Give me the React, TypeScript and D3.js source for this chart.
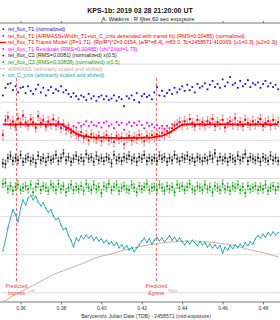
import React from "react";
import * as d3 from "d3";

// Observation times (BJD_TDB - 2458571)
const TIMES = [
  0.3510, 0.3523, 0.3535, 0.3548, 0.3560, 0.3573, 0.3585, 0.3598, 0.3610, 0.3623,
  0.3635, 0.3648, 0.3660, 0.3673, 0.3685, 0.3698, 0.3710, 0.3723, 0.3735, 0.3748,
  0.3760, 0.3773, 0.3785, 0.3798, 0.3810, 0.3823, 0.3835, 0.3848, 0.3860, 0.3873,
  0.3885, 0.3898, 0.3910, 0.3923, 0.3935, 0.3948, 0.3960, 0.3973, 0.3985, 0.3998,
  0.4010, 0.4023, 0.4035, 0.4048, 0.4060, 0.4073, 0.4085, 0.4098, 0.4110, 0.4123,
  0.4135, 0.4148, 0.4160, 0.4173, 0.4185, 0.4198, 0.4210, 0.4223, 0.4235, 0.4248,
  0.4260, 0.4273, 0.4285, 0.4298, 0.4310, 0.4323, 0.4335, 0.4348, 0.4360, 0.4373,
  0.4385, 0.4398, 0.4410, 0.4423, 0.4435, 0.4448, 0.4460, 0.4473, 0.4485, 0.4498,
  0.4510, 0.4523, 0.4535, 0.4548, 0.4560, 0.4573, 0.4585, 0.4598, 0.4610, 0.4623,
  0.4635, 0.4648, 0.4660, 0.4673, 0.4685, 0.4698, 0.4710, 0.4723, 0.4735, 0.4748,
  0.4760, 0.4773, 0.4785, 0.4798, 0.4810, 0.4823, 0.4835, 0.4848, 0.4860, 0.4873,
];

const T1_NORMALIZED = [
  0.959, 0.969, 0.974, 0.975, 0.966, 0.971, 0.963, 0.969, 0.970, 0.962,
  0.971, 0.965, 0.961, 0.967, 0.973, 0.963, 0.969, 0.959, 0.966, 0.970,
  0.962, 0.967, 0.965, 0.971, 0.963, 0.966, 0.961, 0.957, 0.962, 0.958,
  0.954, 0.959, 0.957, 0.953, 0.961, 0.955, 0.958, 0.952, 0.957, 0.959,
  0.954, 0.958, 0.953, 0.955, 0.959, 0.952, 0.957, 0.954, 0.945, 0.958,
  0.955, 0.959, 0.953, 0.962, 0.950, 0.958, 0.961, 0.957, 0.959, 0.954,
  0.963, 0.970, 0.959, 0.965, 0.958, 0.962, 0.966, 0.961, 0.969, 0.963,
  0.967, 0.971, 0.965, 0.973, 0.966, 0.970, 0.963, 0.974, 0.969, 0.971,
  0.975, 0.967, 0.973, 0.978, 0.970, 0.974, 0.969, 0.980, 0.971, 0.976,
  0.983, 0.973, 0.975, 0.969, 0.978, 0.971, 0.974, 0.979, 0.970, 0.975,
  0.973, 0.976, 0.969, 0.974, 0.978, 0.971, 0.975, 0.970, 0.973, 0.967,
];

const T1_DETRENDED = [
  0.907, 0.927, 0.931, 0.921, 0.925, 0.919, 0.929, 0.923, 0.933, 0.924,
  0.920, 0.928, 0.924, 0.917, 0.932, 0.923, 0.927, 0.919, 0.925, 0.921,
  0.928, 0.920, 0.924, 0.916, 0.921, 0.914, 0.917, 0.910, 0.912, 0.908,
  0.906, 0.911, 0.903, 0.907, 0.900, 0.908, 0.904, 0.902, 0.906, 0.899,
  0.904, 0.907, 0.900, 0.903, 0.898, 0.906, 0.902, 0.904, 0.895, 0.903,
  0.906, 0.900, 0.904, 0.902, 0.907, 0.903, 0.899, 0.906, 0.903, 0.907,
  0.904, 0.908, 0.906, 0.910, 0.907, 0.912, 0.910, 0.916, 0.919, 0.921,
  0.924, 0.920, 0.925, 0.921, 0.928, 0.923, 0.919, 0.927, 0.921, 0.924,
  0.920, 0.925, 0.923, 0.928, 0.919, 0.924, 0.921, 0.927, 0.917, 0.923,
  0.925, 0.921, 0.929, 0.920, 0.924, 0.919, 0.927, 0.923, 0.920, 0.925,
  0.921, 0.924, 0.928, 0.919, 0.923, 0.925, 0.920, 0.927, 0.921, 0.924,
];

const T1_RESIDUALS = [
  0.908, 0.925, 0.929, 0.920, 0.924, 0.917, 0.928, 0.921, 0.932, 0.923,
  0.919, 0.927, 0.923, 0.916, 0.931, 0.921, 0.925, 0.917, 0.924, 0.920,
  0.927, 0.919, 0.923, 0.917, 0.921, 0.916, 0.920, 0.915, 0.919, 0.917,
  0.923, 0.919, 0.921, 0.925, 0.919, 0.924, 0.920, 0.919, 0.923, 0.917,
  0.923, 0.925, 0.919, 0.921, 0.916, 0.924, 0.920, 0.923, 0.914, 0.921,
  0.924, 0.919, 0.923, 0.920, 0.925, 0.920, 0.916, 0.923, 0.919, 0.921,
  0.917, 0.920, 0.916, 0.919, 0.915, 0.919, 0.916, 0.921, 0.921, 0.921,
  0.924, 0.920, 0.925, 0.921, 0.928, 0.923, 0.919, 0.927, 0.921, 0.924,
  0.920, 0.925, 0.923, 0.928, 0.919, 0.924, 0.921, 0.927, 0.917, 0.923,
  0.925, 0.921, 0.929, 0.920, 0.924, 0.919, 0.927, 0.923, 0.920, 0.925,
  0.921, 0.924, 0.928, 0.919, 0.923, 0.925, 0.920, 0.927, 0.921, 0.924,
];

const C2_NORMALIZED = [
  0.870, 0.869, 0.877, 0.880, 0.873, 0.877, 0.874, 0.881, 0.872, 0.876,
  0.878, 0.873, 0.876, 0.870, 0.880, 0.874, 0.877, 0.872, 0.878, 0.874,
  0.876, 0.881, 0.873, 0.877, 0.883, 0.874, 0.878, 0.872, 0.876, 0.880,
  0.874, 0.877, 0.873, 0.882, 0.876, 0.878, 0.872, 0.880, 0.874, 0.877,
  0.873, 0.878, 0.876, 0.870, 0.881, 0.874, 0.877, 0.873, 0.878, 0.876,
  0.880, 0.874, 0.877, 0.872, 0.878, 0.876, 0.881, 0.873, 0.877, 0.874,
  0.877, 0.873, 0.880, 0.876, 0.878, 0.872, 0.877, 0.874, 0.881, 0.876,
  0.873, 0.878, 0.876, 0.880, 0.874, 0.877, 0.872, 0.878, 0.876, 0.873,
  0.877, 0.874, 0.880, 0.876, 0.883, 0.873, 0.878, 0.874, 0.877, 0.872,
  0.878, 0.876, 0.873, 0.880, 0.874, 0.877, 0.882, 0.873, 0.878, 0.876,
  0.874, 0.877, 0.872, 0.878, 0.876, 0.873, 0.880, 0.874, 0.877, 0.873,
];

const C3_NORMALIZED = [
  0.843, 0.844, 0.836, 0.840, 0.834, 0.839, 0.842, 0.835, 0.838, 0.840,
  0.836, 0.842, 0.832, 0.839, 0.843, 0.835, 0.840, 0.838, 0.834, 0.842,
  0.839, 0.835, 0.843, 0.836, 0.840, 0.832, 0.838, 0.842, 0.835, 0.839,
  0.836, 0.840, 0.834, 0.843, 0.838, 0.835, 0.842, 0.836, 0.839, 0.831,
  0.840, 0.838, 0.843, 0.835, 0.839, 0.842, 0.834, 0.838, 0.840, 0.836,
  0.835, 0.842, 0.838, 0.832, 0.840, 0.836, 0.839, 0.843, 0.835, 0.838,
  0.839, 0.835, 0.842, 0.838, 0.834, 0.840, 0.836, 0.839, 0.832, 0.842,
  0.838, 0.840, 0.835, 0.839, 0.843, 0.836, 0.834, 0.840, 0.838, 0.835,
  0.842, 0.836, 0.839, 0.832, 0.840, 0.838, 0.835, 0.843, 0.836, 0.839,
  0.834, 0.840, 0.838, 0.842, 0.835, 0.839, 0.831, 0.840, 0.836, 0.838,
  0.840, 0.835, 0.839, 0.836, 0.842, 0.834, 0.838, 0.840, 0.835, 0.839,
];

const TOT_C_CNTS = [
  0.755, 0.769, 0.785, 0.798, 0.809, 0.803, 0.793, 0.811, 0.822, 0.815,
  0.824, 0.828, 0.822, 0.827, 0.819, 0.814, 0.818, 0.811, 0.806, 0.809,
  0.801, 0.796, 0.798, 0.789, 0.783, 0.785, 0.775, 0.769, 0.760, 0.772,
  0.768, 0.775, 0.771, 0.776, 0.772, 0.775, 0.769, 0.773, 0.768, 0.771,
  0.766, 0.769, 0.764, 0.767, 0.762, 0.766, 0.759, 0.763, 0.758, 0.762,
  0.756, 0.760, 0.754, 0.759, 0.763, 0.768, 0.772, 0.766, 0.771, 0.764,
  0.769, 0.773, 0.768, 0.772, 0.767, 0.771, 0.775, 0.769, 0.773, 0.768,
  0.772, 0.767, 0.763, 0.768, 0.764, 0.769, 0.766, 0.762, 0.767, 0.763,
  0.766, 0.760, 0.764, 0.759, 0.763, 0.758, 0.762, 0.752, 0.760, 0.756,
  0.762, 0.758, 0.763, 0.759, 0.764, 0.760, 0.766, 0.762, 0.767, 0.764,
  0.771, 0.775, 0.772, 0.777, 0.773, 0.779, 0.775, 0.780, 0.776, 0.779,
];

const T1_ERR = 0.006;
const C2_ERR = 0.005;
const C3_ERR = 0.005;

const MODEL_TIMES = [0.3510, 0.3800, 0.3830, 0.3860, 0.3900, 0.3950, 0.4100, 0.4250, 0.4300, 0.4340, 0.4370, 0.4400, 0.4873];
const MODEL_VALUES = [0.921, 0.921, 0.916, 0.911, 0.906, 0.904, 0.903, 0.904, 0.906, 0.911, 0.916, 0.921, 0.921];

const AIRMASS_TIMES = [
  0.3510, 0.3560, 0.3610, 0.3660, 0.3710, 0.3760, 0.3810, 0.3860, 0.3910, 0.3960,
  0.4010, 0.4060, 0.4110, 0.4160, 0.4210, 0.4260, 0.4310, 0.4360, 0.4410, 0.4460,
  0.4510, 0.4560, 0.4610, 0.4660, 0.4710, 0.4760, 0.4810, 0.4873,
];
const AIRMASS_VALUES = [
  0.688, 0.696, 0.703, 0.710, 0.717, 0.724, 0.729, 0.734, 0.739, 0.745,
  0.749, 0.752, 0.756, 0.759, 0.762, 0.764, 0.766, 0.767, 0.768, 0.768,
  0.767, 0.766, 0.764, 0.762, 0.758, 0.755, 0.752, 0.747,
];

const X_TICKS = [0.36, 0.38, 0.40, 0.42, 0.44, 0.46, 0.48];
const GRID_VALUES = [0.70, 0.75, 0.80, 0.85, 0.90, 0.95, 1.00];

const PREDICTED_TIMES = [0.3578, 0.4270];
const PREDICTED_LABELS = ["Ingress", "Egress"];
const PREDICTED_SIDES = ["Left", "Right"];

const LEGEND_LABELS = [
  "rel_flux_T1 (normalized)",
  "rel_flux_T1 (AIRMASS+Width_T1+tot_C_cnts detrended with transit fit) (RMS=0.00485) (normalized)",
  "rel_flux_T1 Transit Model ([P=1.71], (Rp/R*)^2=0.0154, [a/R*=8.4], i=83.0, Tc=2458571.410069, [u1=0.3], [u2=0.3])",
  "rel_flux_T1 Residuals (RMS=0.00485) (chi^2/dof=1.79)",
  "rel_flux_C2 (RMS=0.0081) (normalized) x(0.5)",
  "rel_flux_C3 (RMS=0.00808) (normalized) x(0.5)",
  "AIRMASS (arbitrarily scaled and shifted)",
  "tot_C_cnts (arbitrarily scaled and shifted)",
];
const LEGEND_COLORS = ["#1010e8", "#ff0000", "#ff0000", "#ff00ff", "#222222", "#12a012", "#c8a890", "#1aa0ad"];
const LEGEND_KINDS = ["dot", "dot", "line", "dot", "dot", "dot", "dash", "dot"];

const FONT = "'Liberation Sans', Arial, sans-serif";

export default function App() {
  const W = 280;
  const H = 320;
  const top = 23;
  const bottom = 302;
  const left = 0.8;
  const right = 279.6;
  const x = d3.scaleLinear().domain([0.35, 0.488]).range([left, right]);
  const y = d3.scaleLinear().domain([0.688, 1.054]).range([bottom, top]);

  const model = d3
    .line<number>()
    .x((_, i) => x(MODEL_TIMES[i]))
    .y((d) => y(d))(MODEL_VALUES);
  const airmass = d3
    .line<number>()
    .x((_, i) => x(AIRMASS_TIMES[i]))
    .y((d) => y(d))
    .curve(d3.curveMonotoneX)(AIRMASS_VALUES);
  const totC = d3
    .line<number>()
    .x((_, i) => x(TIMES[i]))
    .y((d) => y(d))(TOT_C_CNTS);

  const errBars = (vals: number[], err: number, color: string, key: string) =>
    vals.map((v, i) => {
      const cx = x(TIMES[i]);
      const y1 = y(v + err);
      const y2 = y(v - err);
      return (
        <g key={key + i} stroke={color} strokeWidth={0.7}>
          <line x1={cx} x2={cx} y1={y1} y2={y2} />
          <line x1={cx - 1} x2={cx + 1} y1={y1} y2={y1} />
          <line x1={cx - 1} x2={cx + 1} y1={y2} y2={y2} />
        </g>
      );
    });

  const dots = (vals: number[], color: string, key: string, size = 1.8) =>
    vals.map((v, i) => (
      <rect
        key={key + i}
        x={x(TIMES[i]) - size / 2}
        y={y(v) - size / 2}
        width={size}
        height={size}
        fill={color}
      />
    ));

  return (
    <svg
      width={W}
      height={H}
      style={{ position: "absolute", left: 0, top: 0, background: "#fff" }}
      fontFamily={FONT}
    >
      <rect x={0} y={0} width={W} height={H} fill="#fff" />
      <defs>
        <clipPath id="plot">
          <rect x={left} y={top} width={right - left} height={bottom - top} />
        </clipPath>
      </defs>

      {/* title */}
      <text x={140} y={12.5} textAnchor="middle" fontSize={7} fontWeight="bold" fill="#111">
        KPS-1b: 2019 03 28 21:20:00 UT
      </text>
      <text x={148} y={20.5} textAnchor="middle" fontSize={5.8} fill="#222">
        A. Watkins : R filter,60 sec exposure
      </text>

      {/* grid */}
      {GRID_VALUES.map((g) => (
        <line key={"g" + g} x1={left} x2={right} y1={y(g)} y2={y(g)} stroke="#d4d4d4" strokeWidth={0.8} />
      ))}

      {/* axes */}
      <line x1={0} x2={W} y1={top} y2={top} stroke="#555" strokeWidth={0.8} />
      <line x1={0} x2={W} y1={bottom} y2={bottom} stroke="#555" strokeWidth={0.8} />
      {X_TICKS.map((t) => (
        <g key={"t" + t}>
          <line x1={x(t)} x2={x(t)} y1={bottom} y2={bottom + 2.5} stroke="#555" strokeWidth={0.8} />
          <line x1={x(t)} x2={x(t)} y1={top} y2={top - 2} stroke="#555" strokeWidth={0.8} />
          <text x={x(t)} y={310} textAnchor="middle" fontSize={5} fill="#333">
            {t.toFixed(2)}
          </text>
        </g>
      ))}
      <text x={146} y={318} textAnchor="middle" fontSize={5.2} fill="#333">
        Barycentric Julian Date (TDB) - 2458571 (mid-exposure)
      </text>

      {/* predicted ingress/egress */}
      {PREDICTED_TIMES.map((t, i) => (
        <g key={"p" + i}>
          <line
            x1={x(t)}
            x2={x(t)}
            y1={78}
            y2={283}
            stroke="#ff5050"
            strokeWidth={0.9}
            strokeDasharray="3,2"
          />
          <text x={x(t)} y={288} textAnchor="middle" fontSize={5.2} fill="#ff4040">
            Predicted
          </text>
          <text x={x(t) + 12} y={292} textAnchor="start" fontSize={3.8} fill="#aaa">
            {PREDICTED_SIDES[i]}
          </text>
          <text x={x(t)} y={295} textAnchor="middle" fontSize={5.2} fill="#ff4040">
            {PREDICTED_LABELS[i]}
          </text>
        </g>
      ))}

      <g clipPath="url(#plot)">
        <path d={airmass || ""} fill="none" stroke="#c8a890" strokeWidth={0.9} />
        <path d={totC || ""} fill="none" stroke="#1aa0ad" strokeWidth={0.9} />
        {dots(TOT_C_CNTS, "#1aa0ad", "tc", 1.2)}

        {errBars(C3_NORMALIZED, C3_ERR, "#33b033", "c3e")}
        {dots(C3_NORMALIZED, "#0a9a0a", "c3")}

        {errBars(C2_NORMALIZED, C2_ERR, "#444", "c2e")}
        {dots(C2_NORMALIZED, "#111", "c2")}

        {dots(T1_RESIDUALS, "#ff00ff", "res")}

        {errBars(T1_DETRENDED, T1_ERR, "#ff6a6a", "t1e")}
        {dots(T1_DETRENDED, "#ff0000", "t1d")}
        <path d={model || ""} fill="none" stroke="#ff0000" strokeWidth={1.6} />

        {dots(T1_NORMALIZED, "#1010e8", "t1")}
      </g>

      {/* legend */}
      {LEGEND_LABELS.map((label, i) => {
        const ly = 31 + i * 6.6;
        const c = LEGEND_COLORS[i];
        const kind = LEGEND_KINDS[i];
        return (
          <g key={"l" + i}>
            {kind === "dot" && <rect x={2.5} y={ly - 2.6} width={1.6} height={1.6} fill={c} />}
            {kind === "line" && <line x1={0} x2={6} y1={ly - 1.8} y2={ly - 1.8} stroke={c} strokeWidth={1.2} />}
            {kind === "dash" && (
              <line x1={0} x2={6} y1={ly - 1.8} y2={ly - 1.8} stroke={c} strokeWidth={0.9} strokeDasharray="2,1" />
            )}
            <text x={8} y={ly} fontSize={5.3} fill={c}>
              {label}
            </text>
          </g>
        );
      })}
    </svg>
  );
}
